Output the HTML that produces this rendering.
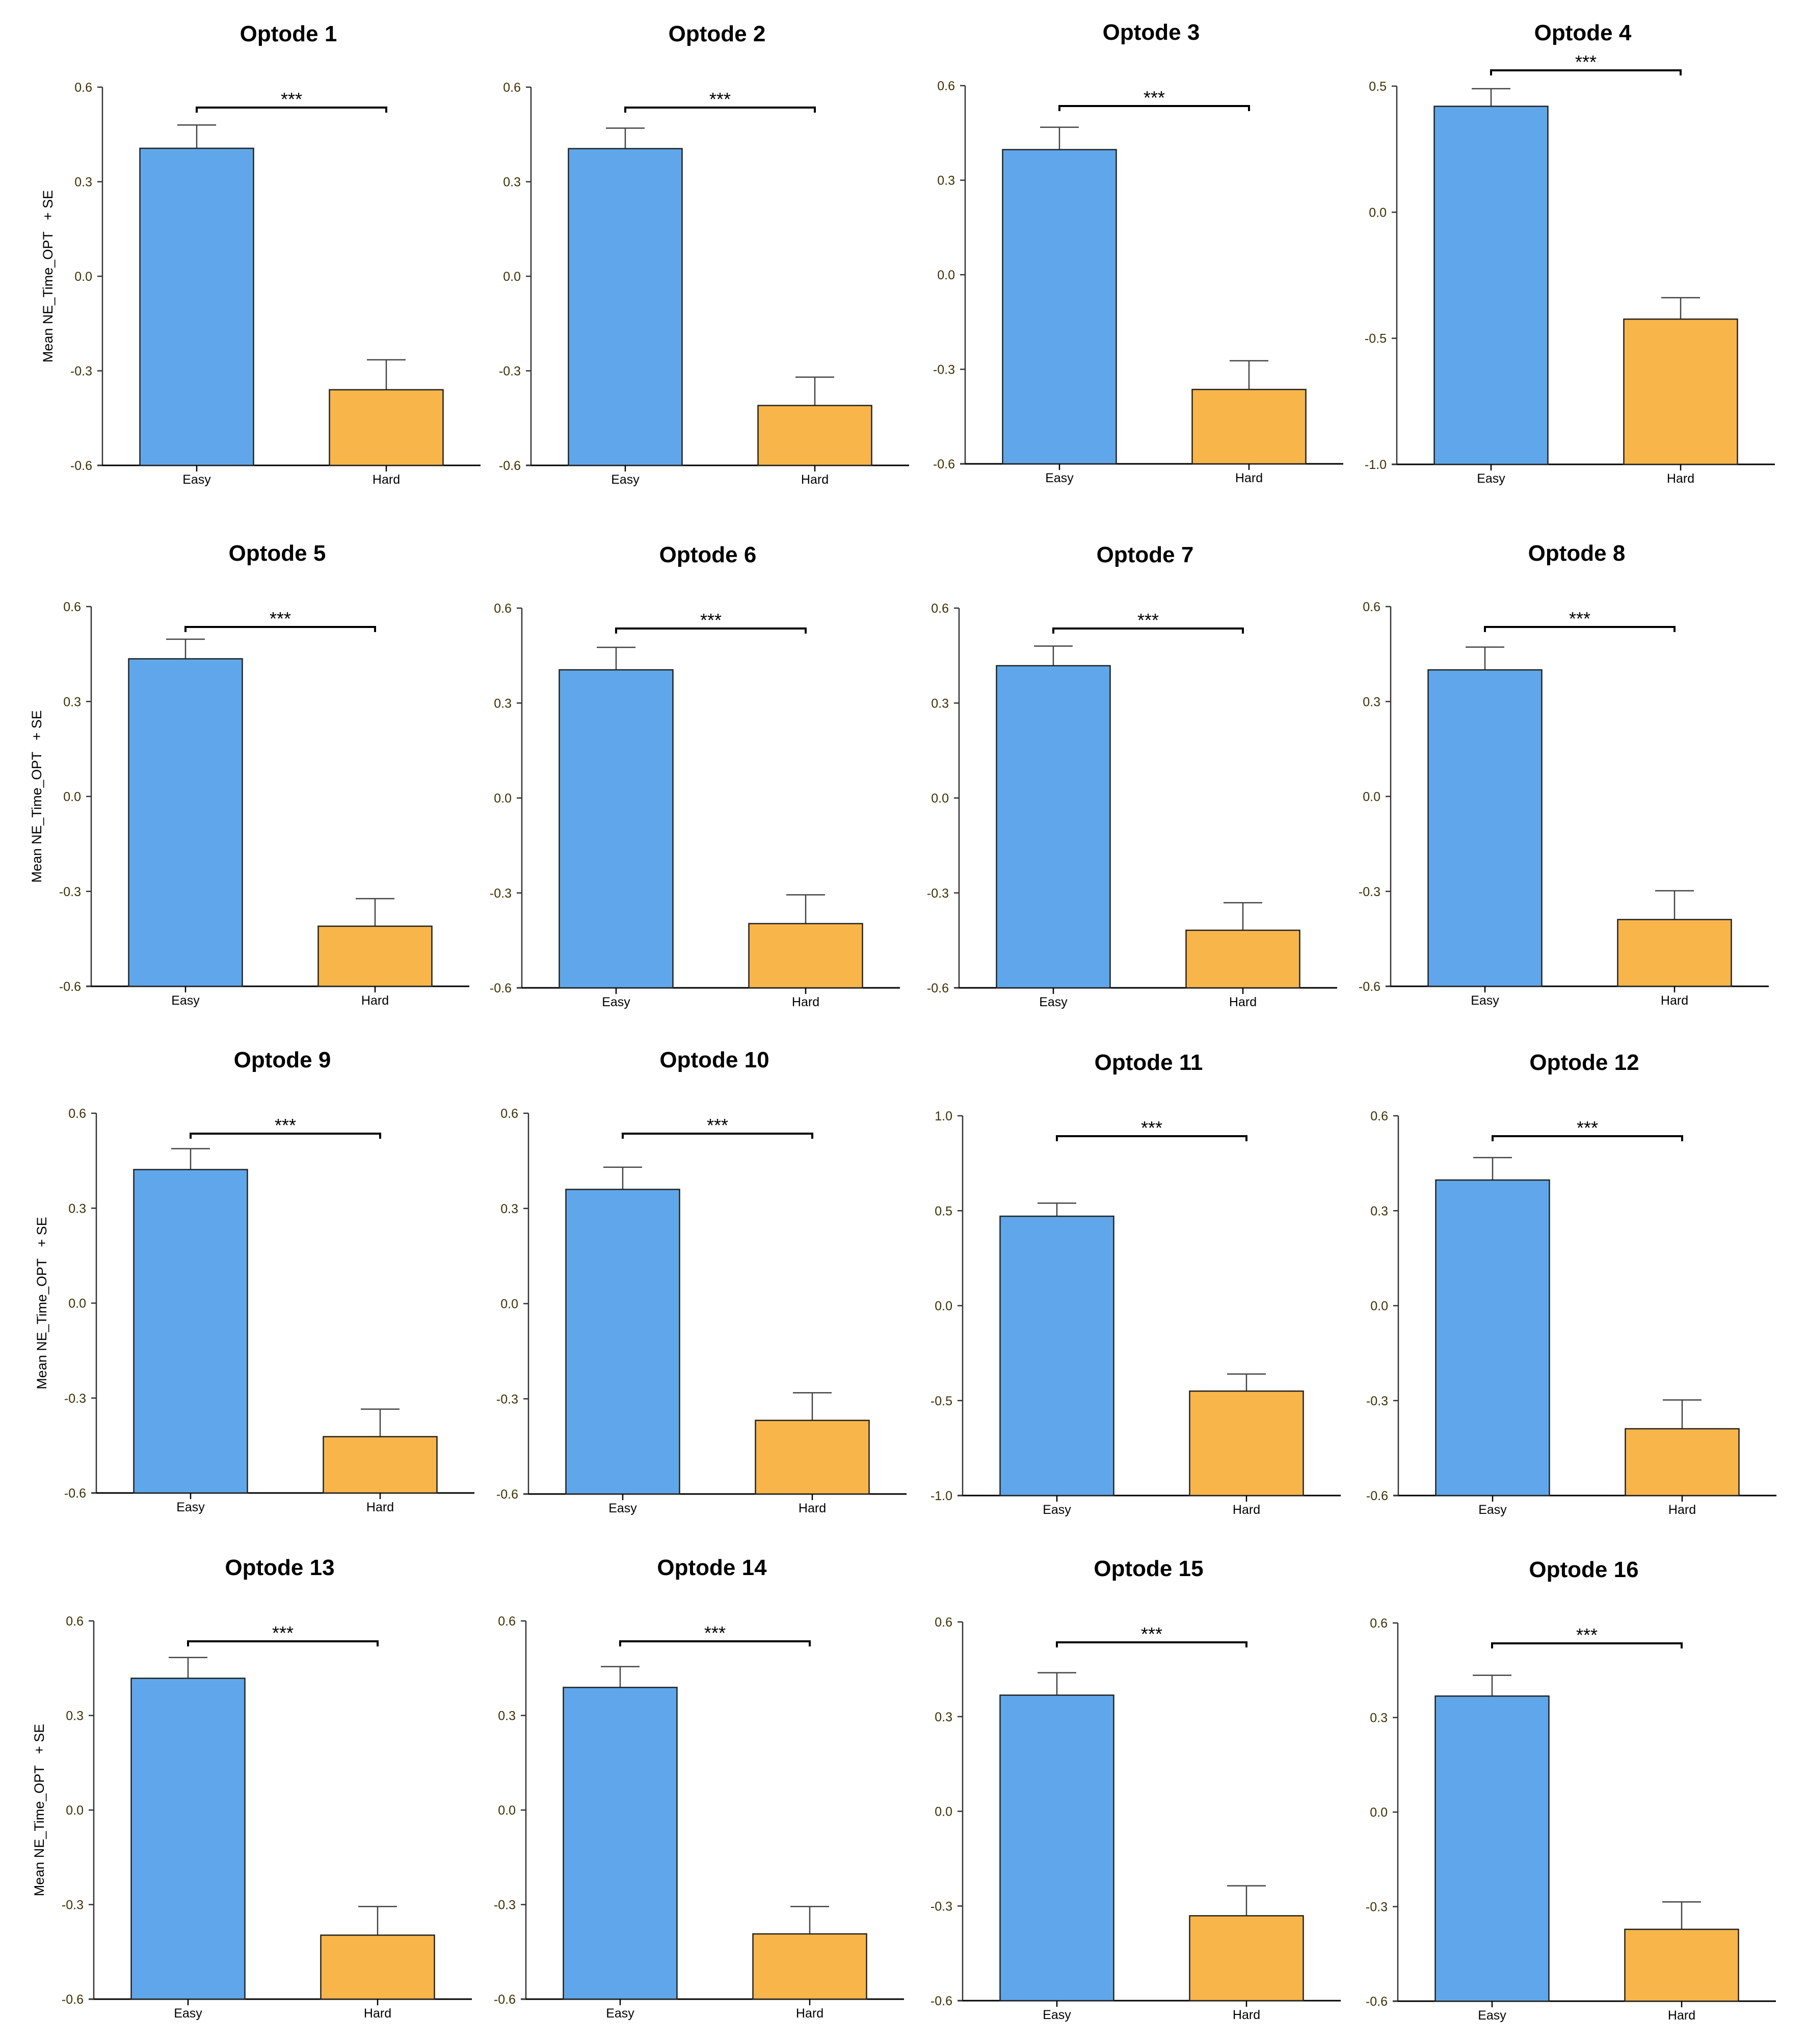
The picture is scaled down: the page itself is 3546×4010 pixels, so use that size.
<!DOCTYPE html>
<html><head><meta charset="utf-8"><style>
html,body{margin:0;padding:0;background:#fff;}
svg{display:block;}
text{font-family:"Liberation Sans",Arial,sans-serif;}
</style></head>
<body>
<svg id="chart" width="3546" height="4010" viewBox="0 0 3546 4010" xmlns="http://www.w3.org/2000/svg"></svg>
<script>
const titles = ["Optode 1","Optode 2","Optode 3","Optode 4","Optode 5","Optode 6","Optode 7","Optode 8","Optode 9","Optode 10","Optode 11","Optode 12","Optode 13","Optode 14","Optode 15","Optode 16"];
const categories = ["Easy","Hard"];
const easyMeans = [0.406,0.405,0.397,0.42,0.435,0.405,0.418,0.40,0.422,0.36,0.471,0.397,0.418,0.389,0.368,0.368];
const easySE = [0.074,0.065,0.071,0.07,0.062,0.071,0.062,0.072,0.066,0.07,0.069,0.071,0.066,0.066,0.071,0.066];
const hardMeans = [-0.36,-0.41,-0.364,-0.424,-0.41,-0.397,-0.418,-0.389,-0.422,-0.368,-0.45,-0.389,-0.397,-0.393,-0.331,-0.372];
const hardSE = [0.095,0.09,0.091,0.085,0.087,0.091,0.087,0.091,0.087,0.087,0.09,0.091,0.091,0.087,0.095,0.087];
const axisMin = [-0.6,-0.6,-0.6,-1.0,-0.6,-0.6,-0.6,-0.6,-0.6,-0.6,-1.0,-0.6,-0.6,-0.6,-0.6,-0.6];
const axisMax = [0.6,0.6,0.6,0.5,0.6,0.6,0.6,0.6,0.6,0.6,1.0,0.6,0.6,0.6,0.6,0.6];
const tickStep = [0.3,0.3,0.3,0.5,0.3,0.3,0.3,0.3,0.3,0.3,0.5,0.3,0.3,0.3,0.3,0.3];
const sigLabel = "***";

// layout (pixel frames, not data)
const frameX = [201,1042,1894,2741, 179,1024,1882,2729, 189,1037,1889,2744, 184,1032,1889,2743];
const frameTop = [171,171,168,169, 1190,1193,1193,1190, 2184,2184,2189,2189, 3180,3180,3182,3184];
const frameBot = [913,913,910,911, 1935,1938,1938,1935, 2929,2931,2934,2934, 3922,3922,3925,3926];

const svg = document.getElementById('chart');
const NS = "http://www.w3.org/2000/svg";
function mk(tag, attrs, parent){ const e=document.createElementNS(NS,tag); for(const k in attrs) e.setAttribute(k,attrs[k]); (parent||svg).appendChild(e); return e; }

for(let i=0;i<16;i++){
  const g = mk('g',{});
  
  
  const ax=frameX[i], top=frameTop[i], bot=frameBot[i];
  const y = v => bot - (v-axisMin[i])/(axisMax[i]-axisMin[i])*(bot-top);
  const xc = [ax+185, ax+557];
  const hw = 111.5;
  const t = mk('text',{x:ax+365,y:top-90,'font-size':44,'font-weight':'bold','text-anchor':'middle',fill:'#000'},g);
  t.textContent = titles[i];
  
  
  const ya = mk('line',{x1:ax,y1:top,x2:ax,y2:bot,stroke:'#333','stroke-width':2.5},g);
  
  
  const xa = mk('line',{x1:ax-10,y1:bot,x2:ax+742,y2:bot,stroke:'#000','stroke-width':3},g);
  
  
  const n = Math.round((axisMax[i]-axisMin[i])/tickStep[i]);
  for(let k=0;k<=n;k++){
    const v = axisMin[i]+k*tickStep[i];
    const yy = y(v);
    mk('line',{x1:ax-10,y1:yy,x2:ax,y2:yy,stroke:'#333','stroke-width':2.5},g);
    const tl = mk('text',{x:ax-20,y:yy+9,'font-size':25,'text-anchor':'end',fill:'#3a3000'},g);
    tl.textContent = (Math.abs(v)<1e-9?0:v).toFixed(1);
    
    
  }
  const means=[easyMeans[i],hardMeans[i]], ses=[easySE[i],hardSE[i]], cols=['#5fa7ea','#f8b54a'];
  for(let c=0;c<2;c++){
    const y0=y(means[c]);
    const eb = mk('line',{x1:xc[c],y1:y0,x2:xc[c],y2:y(means[c]+ses[c]),stroke:'#444','stroke-width':2.5},g);
    
    
    mk('line',{x1:xc[c]-38,y1:y(means[c]+ses[c]),x2:xc[c]+38,y2:y(means[c]+ses[c]),stroke:'#444','stroke-width':2.5},g);
    const r = mk('rect',{x:xc[c]-hw,y:y0,width:2*hw,height:bot-y0,fill:cols[c],stroke:'#222','stroke-width':2.5},g);
    
    
    mk('line',{x1:xc[c],y1:bot,x2:xc[c],y2:bot+12,stroke:'#000','stroke-width':2.5},g);
    const cl = mk('text',{x:xc[c],y:bot+36,'font-size':25,'text-anchor':'middle',fill:'#000'},g);
    cl.textContent = categories[c];
    
    
  }
  const by = (i===3)? top-31 : top+40;
  const br = mk('path',{d:`M${xc[0]} ${by+10} V${by} H${xc[1]} V${by+10}`,fill:'none',stroke:'#000','stroke-width':4},g);
  
  
  const st = mk('text',{x:(xc[0]+xc[1])/2,y:by-4,'font-size':36,'text-anchor':'middle',fill:'#000'},g);
  st.textContent = sigLabel;
  
  
  if(i%4===0){
    const cy=(top+bot)/2, cx=ax-98;
    const yl = mk('text',{x:cx,y:cy,'font-size':27,'text-anchor':'middle',fill:'#000',transform:`rotate(-90 ${cx} ${cy})`,style:'white-space:pre'},g);
    yl.textContent = "Mean NE_Time_OPT   + SE";
    
    
  }
}
</script>
</body></html>
